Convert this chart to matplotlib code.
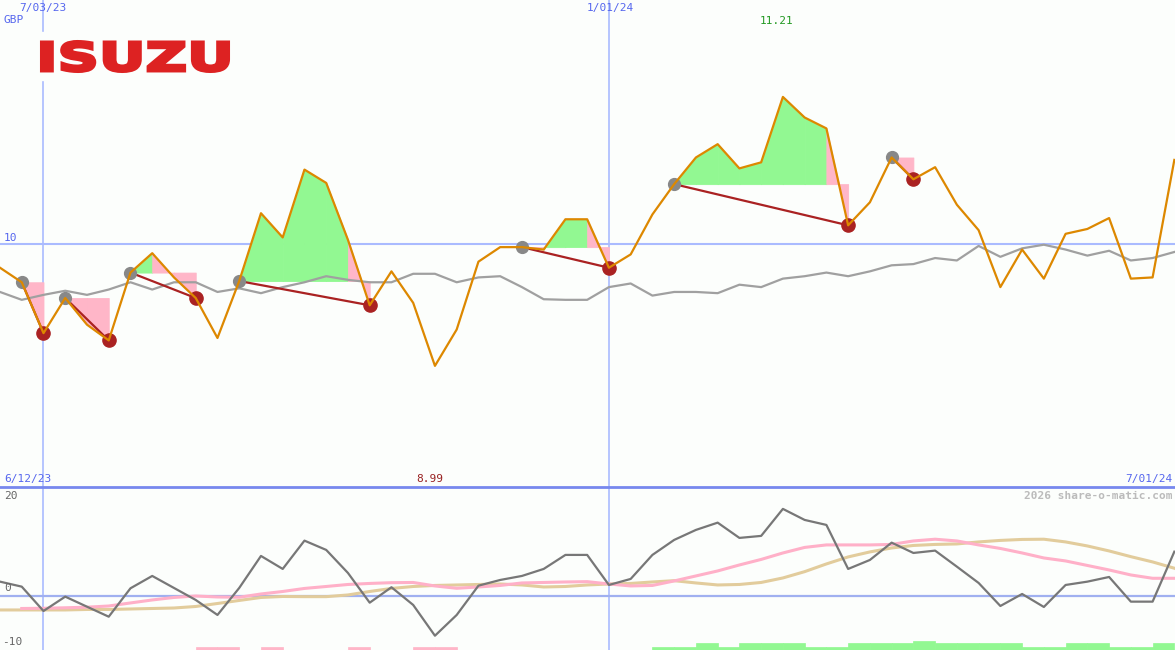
import numpy as np
import matplotlib
matplotlib.use("Agg")
import matplotlib.pyplot as plt
from matplotlib.lines import Line2D
from matplotlib.patches import PathPatch, Rectangle
from matplotlib.textpath import TextPath
from matplotlib.font_manager import FontProperties
from matplotlib.transforms import Affine2D

# weekly closes, GBP
price = [9.80, 9.68, 9.26, 9.55, 9.33, 9.20, 9.76, 9.92, 9.72, 9.55,
         9.22, 9.69, 10.25, 10.05, 10.61, 10.50, 10.03, 9.49, 9.77, 9.51,
         8.99, 9.29, 9.85, 9.97, 9.97, 9.95, 10.20, 10.20, 9.80, 9.91,
         10.24, 10.49, 10.71, 10.82, 10.62, 10.67, 11.21, 11.04, 10.95, 10.15,
         10.34, 10.71, 10.53, 10.63, 10.32, 10.11, 9.64, 9.95, 9.71, 10.08,
         10.12, 10.21, 9.71, 9.72, 10.69]
# grey reference line
ref = [9.60, 9.535, 9.576, 9.61, 9.576, 9.62, 9.68, 9.62, 9.68, 9.68,
       9.60, 9.63, 9.59, 9.64, 9.68, 9.73, 9.70, 9.68, 9.68, 9.75,
       9.75, 9.68, 9.72, 9.73, 9.64, 9.54, 9.535, 9.535, 9.64, 9.67,
       9.57, 9.60, 9.60, 9.59, 9.66, 9.64, 9.71, 9.73, 9.76, 9.73,
       9.77, 9.82, 9.83, 9.88, 9.86, 9.98, 9.89, 9.96, 9.99, 9.95,
       9.90, 9.94, 9.86, 9.88, 9.93]
buys = [1, 3, 6, 11, 24, 31, 41]
sells = [2, 5, 9, 17, 28, 39, 42]

# lower panel
mom = [2.58, 1.66, -2.82, -0.18, -2.03, -3.87, 1.36, 3.63, 1.42, -0.79,
       -3.55, 1.42, 7.31, 4.92, 10.13, 8.42, 4.18, -1.29, 1.55, -1.71,
       -7.37, -3.55, 1.84, 2.89, 3.63, 4.92, 7.50, 7.50, 1.97, 3.08,
       7.50, 10.26, 12.10, 13.44, 10.63, 11.00, 15.97, 13.94, 13.02, 4.92,
       6.57, 9.76, 7.86, 8.29, 5.34, 2.34, -1.90, 0.31, -2.08, 1.97,
       2.58, 3.44, -1.10, -1.10, 8.10]
pink_avg = [np.nan, -2.36, -2.32, -2.23, -2.12, -1.90, -1.34, -0.79, -0.33, -0.06,
            -0.24, -0.29, 0.31, 0.77, 1.33, 1.69, 2.06, 2.25, 2.39, 2.43,
            1.79, 1.36, 1.60, 1.88, 2.34, 2.43, 2.52, 2.58, 2.15, 1.79,
            1.88, 2.71, 3.63, 4.55, 5.65, 6.67, 7.86, 8.88, 9.34, 9.34,
            9.34, 9.43, 10.07, 10.39, 10.07, 9.34, 8.69, 7.86, 6.94, 6.39,
            5.56, 4.73, 3.81, 3.20, 3.20]
tan_avg = [-2.63, -2.63, -2.63, -2.63, -2.54, -2.54, -2.45, -2.36, -2.27, -1.99,
           -1.44, -0.88, -0.33, -0.15, -0.18, -0.18, 0.13, 0.77, 1.33, 1.69,
           1.88, 1.97, 2.06, 2.15, 1.97, 1.60, 1.69, 1.97, 2.15, 2.25,
           2.52, 2.76, 2.34, 1.97, 2.06, 2.43, 3.26, 4.42, 5.84, 7.13,
           8.05, 8.78, 9.24, 9.43, 9.52, 9.89, 10.17, 10.35, 10.39, 9.89,
           9.15, 8.23, 7.18, 6.21, 5.05]
# signal bars per week: + green, - pink
signal = [0, 0, 0, 0, 0, 0, 0, 0, 0, -0.6,
          -0.6, 0, -0.6, 0, 0, 0, -0.6, 0, 0, -0.6,
          -0.6, 0, 0, 0, 0, 0, 0, 0, 0, 0,
          0.55, 0.55, 1.2, 0.55, 1.2, 1.2, 1.2, 0.55, 0.55, 1.2,
          1.2, 1.2, 1.65, 1.2, 1.2, 1.2, 1.2, 0.55, 0.55, 1.2,
          1.2, 0.55, 0.55, 1.2]

date_idx = [2, 28]

W, H = 1175, 650
bg = '#fcfefc'
fig = plt.figure(figsize=(W / 100, H / 100), dpi=100, facecolor=bg)
split = 487
ax = fig.add_axes([0, 1 - split / H, 1, split / H])
ax2 = fig.add_axes([0, 0, 1, 1 - split / H])
x = np.arange(len(price))

for a in (ax, ax2):
    a.set_facecolor(bg)
    a.set_xlim(0, len(price) - 1 + 0.03)
    for s in a.spines.values():
        s.set_visible(False)
    a.set_xticks([])
    a.set_yticks([])
    for d in date_idx:
        a.axvline(d, color='#aabbff', lw=1.2, zorder=1)

ax.set_ylim(7.99, 12.01)
ax.axhline(10, color='#aabbff', lw=1.5, zorder=1)

p = np.array(price)
for b, s in zip(buys, sells):
    lvl = p[b]
    for j in range(b, s):
        col = '#ffb6c8' if (p[j + 1] < lvl or j + 1 == s) else '#92f892'
        ax.fill_between(x[j:j + 2], p[j:j + 2], lvl, facecolor=col,
                        edgecolor=col, lw=0.6, zorder=2)

ax.plot(x, ref, color='#a0a0a0', lw=1.6, zorder=3)
for b, s in zip(buys, sells):
    ax.plot([b, s], [p[b], p[s]], color='#aa2222', lw=1.6, zorder=4)
ax.plot(buys, p[buys], 'o', color='#888888', ms=8.5, zorder=5)
ax.plot(sells, p[sells], 'o', color='#aa2222', ms=9.5, zorder=5)
ax.plot(x, price, color='#dd8800', lw=1.6, zorder=6)

ax2.set_ylim(-10, 20)
ax2.axhline(0, color='#a0b0f0', lw=1.6, zorder=1)
sig = np.array(signal)
cols = ['#92f892' if v > 0 else '#ffb6c8' for v in sig]
ax2.bar(np.arange(len(sig)) + 0.5, np.abs(sig), width=1.0, bottom=-10,
        color=cols, edgecolor=cols, lw=0.5, zorder=2)
ax2.plot(x, tan_avg, color='#e2cc9c', lw=2.2, zorder=3)
ax2.plot(x, pink_avg, color='#ffb0c8', lw=2.2, zorder=3)
ax2.plot(x, mom, color='#777777', lw=1.6, zorder=4)

fig.add_artist(Line2D([0, 1], [1 - split / H] * 2, color='#7788ee', lw=2,
                      transform=fig.transFigure))

# logo
fig.add_artist(Rectangle((38 / W, 1 - 80 / H), 196 / W, 48 / H, color=bg,
                         transform=fig.transFigure, zorder=10))
tp = TextPath((0, 0), "ISUZU", size=100,
              prop=FontProperties(family='DejaVu Sans', weight='bold'))
bb = tp.get_extents()
tr = Affine2D().translate(-bb.x0, -bb.y0).scale(187 / bb.width / W, 30 / bb.height / H) \
    .translate(41.5 / W, 1 - 71.5 / H)
fig.add_artist(PathPatch(tr.transform_path(tp), facecolor='#dd2222',
                         edgecolor='#dd2222', lw=2.2, joinstyle='miter',
                         transform=fig.transFigure, zorder=11))

mono = 'DejaVu Sans Mono'
def label(px, py, s, color, ha='left', **kw):
    fig.text(px / W, 1 - py / H, s, color=color, ha=ha, va='center',
             family=mono, fontsize=8, zorder=12, **kw)

blue = '#5566ee'
label(43, 8, '7/03/23', blue, ha='center')
label(4, 20, 'GBP', blue)
label(610, 8, '1/01/24', blue, ha='center')
label(777, 21, '11.21', '#229922', ha='center')
label(4, 238, '10', blue)
label(4, 479, '6/12/23', blue)
label(430, 479, '8.99', '#992222', ha='center')
label(1172, 479, '7/01/24', blue, ha='right')
label(1172, 496, '2026 share-o-matic.com', '#bbbbbb', ha='right', weight='bold')
label(4, 496, '20', '#666666')
label(4, 588, '0', '#666666')
label(2, 642, '-10', '#666666')

fig.savefig('out.png', dpi=100, facecolor=bg)
